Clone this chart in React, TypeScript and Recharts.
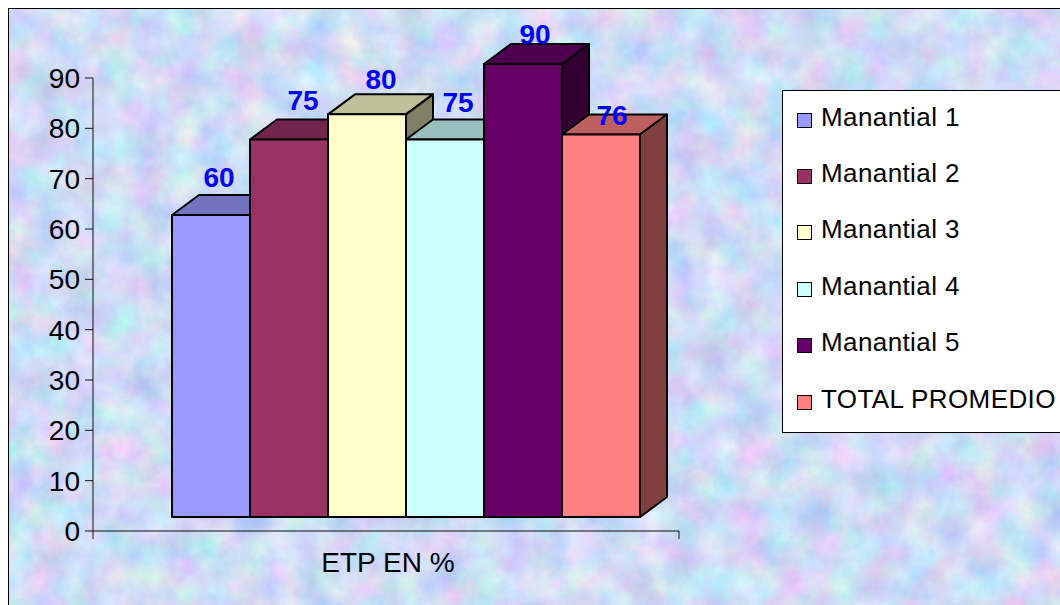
import { BarChart, Bar, XAxis, YAxis, Legend, LabelList } from 'recharts';

const CATEGORY = 'ETP EN %';
const SERIES_NAMES = ['Manantial 1', 'Manantial 2', 'Manantial 3', 'Manantial 4', 'Manantial 5', 'TOTAL PROMEDIO'];
const SERIES_VALUES = [60, 75, 80, 75, 90, 76];
const Y_TICKS = [0, 10, 20, 30, 40, 50, 60, 70, 80, 90];

const FRONT_COLORS = ['#9999ff', '#993366', '#ffffcc', '#ccffff', '#660066', '#ff8080'];
const TOP_COLORS = ['#7373bf', '#73264d', '#bfbf99', '#99bfbf', '#4d004d', '#bf6060'];
const SIDE_COLORS = ['#4d4d80', '#4d1a33', '#808066', '#668080', '#330033', '#804040'];

const LABEL_NUDGE_X = [8, 14, 14, 13, 12, 11];
const LABEL_NUDGE_Y = [-28, -30, -25, -28, -20, -9];

const FONT = '"Liberation Sans", Arial, sans-serif';
const PLOT_W = 586;
// the 3D floor sits in front of the axis plane
const FLOOR_X = 20;
const FLOOR_Y = -14;
const DEPTH_X = 27;
const DEPTH_Y = -20;

const chartData = [
  SERIES_NAMES.reduce<Record<string, string | number>>(
    (row, name, i) => {
      row[name] = SERIES_VALUES[i];
      return row;
    },
    { name: CATEGORY },
  ),
];

function Cuboid(props: any) {
  const { x, y, width, height, seriesIndex } = props;
  const x0 = x + FLOOR_X;
  const x1 = x0 + width;
  const top = y + FLOOR_Y;
  const bottom = top + height;
  return (
    <g stroke="#000" strokeWidth={2} strokeLinejoin="round">
      <polygon
        points={`${x0},${top} ${x0 + DEPTH_X},${top + DEPTH_Y} ${x1 + DEPTH_X},${top + DEPTH_Y} ${x1},${top}`}
        fill={TOP_COLORS[seriesIndex]}
      />
      <polygon
        points={`${x1},${top} ${x1 + DEPTH_X},${top + DEPTH_Y} ${x1 + DEPTH_X},${bottom + DEPTH_Y} ${x1},${bottom}`}
        fill={SIDE_COLORS[seriesIndex]}
      />
      <rect x={x0} y={top} width={width} height={height} fill={FRONT_COLORS[seriesIndex]} />
    </g>
  );
}

function ValueLabel(props: any) {
  const { x, y, width, value, seriesIndex } = props;
  return (
    <text
      x={x + FLOOR_X + width / 2 + LABEL_NUDGE_X[seriesIndex]}
      y={y + FLOOR_Y + LABEL_NUDGE_Y[seriesIndex]}
      textAnchor="middle"
      fontFamily={FONT}
      fontSize={28}
      fontWeight="bold"
      fill="#0000ff"
    >
      {value}
    </text>
  );
}

function CategoryTick(props: any) {
  const { x, y, payload } = props;
  // recharts hands over y below its default tick gap, so step back to the axis line
  const axisY = y - 8;
  return (
    <g>
      <line x1={x - PLOT_W / 2} y1={axisY} x2={x - PLOT_W / 2} y2={axisY + 8} stroke="#111" />
      <line x1={x + PLOT_W / 2} y1={axisY} x2={x + PLOT_W / 2} y2={axisY + 8} stroke="#111" />
      <text x={x + 2} y={axisY + 41} textAnchor="middle" fontFamily={FONT} fontSize={28} fill="#000">
        {payload.value}
      </text>
    </g>
  );
}

function LegendBox() {
  return (
    <div
      style={{
        boxSizing: 'border-box',
        width: 300,
        height: 343,
        background: '#fff',
        border: '1px solid #000',
        fontFamily: FONT,
        fontSize: 26,
        letterSpacing: 0.4,
        color: '#000',
      }}
    >
      {SERIES_NAMES.map((name, i) => (
        <div
          key={name}
          style={{ height: 56.4, display: 'flex', alignItems: 'center', paddingLeft: 14, marginTop: i === 0 ? -2 : 0 }}
        >
          <span
            style={{
              boxSizing: 'border-box',
              width: 15,
              height: 15,
              marginTop: 6,
              marginRight: 9,
              background: FRONT_COLORS[i],
              border: '1.6px solid #000',
            }}
          />
          <span style={{ whiteSpace: 'pre' }}>{name}</span>
        </div>
      ))}
    </div>
  );
}

export default function App() {
  return (
    <div style={{ position: 'absolute', left: 0, top: 0, width: 1060, height: 605, overflow: 'hidden', background: '#fff' }}>
      <svg width={1060} height={605} style={{ position: 'absolute', left: 0, top: 0 }}>
        <defs>
          <filter id="paper" x="0" y="0" width="100%" height="100%" colorInterpolationFilters="sRGB">
            <feTurbulence type="fractalNoise" baseFrequency="0.03" numOctaves={5} seed={7} />
            <feColorMatrix
              type="matrix"
              values="0.38 0 0 0 0.62
                      0 0.28 0 0 0.72
                      0 0 0.14 0 0.89
                      0 0 0 0 1"
            />
          </filter>
        </defs>
        <rect x={9} y={9} width={1060} height={605} filter="url(#paper)" />
        <rect x={8.5} y={8.5} width={1060} height={605} fill="none" stroke="#000" />
      </svg>
      <div style={{ position: 'absolute', left: 0, top: 0 }}>
        <BarChart
          width={1060}
          height={605}
          data={chartData}
          margin={{ top: 78, right: 381, bottom: 0, left: 0 }}
          barCategoryGap={59}
          barGap={0}
        >
          <XAxis
            dataKey="name"
            height={74}
            stroke="#111"
            tickLine={false}
            tick={<CategoryTick />}
            interval={0}
          />
          <YAxis
            width={93}
            domain={[0, 90]}
            ticks={Y_TICKS}
            interval={0}
            stroke="#111"
            tickSize={8}
            tickMargin={5}
            tick={{ fill: '#000', fontSize: 28, fontFamily: FONT }}
          />
          {SERIES_NAMES.map((name, i) => (
            <Bar
              key={name}
              dataKey={name}
              isAnimationActive={false}
              shape={(p: any) => <Cuboid {...p} seriesIndex={i} />}
            >
              <LabelList dataKey={name} content={(p: any) => <ValueLabel {...p} seriesIndex={i} />} />
            </Bar>
          ))}
          <Legend
            layout="vertical"
            align="center"
            verticalAlign="middle"
            content={() => <LegendBox />}
            wrapperStyle={{ left: 782, top: 90, width: 300, height: 343 }}
          />
        </BarChart>
      </div>
    </div>
  );
}
